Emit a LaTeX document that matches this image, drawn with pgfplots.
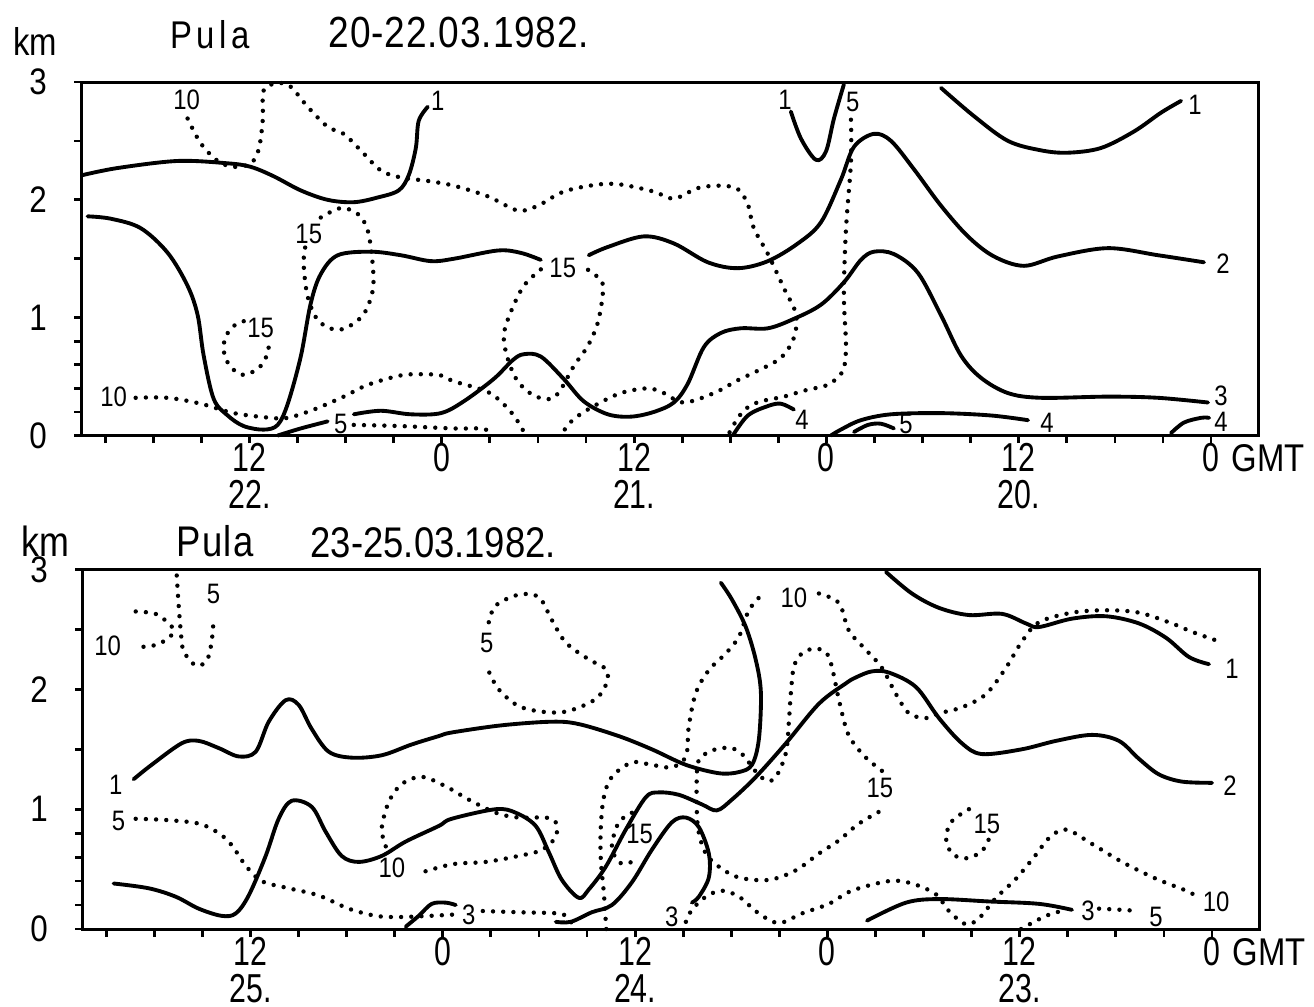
\documentclass[border=0pt]{standalone}
\usepackage{pgfplots}
\pgfplotsset{compat=1.18}
\usepackage{fontspec}
\setmainfont{Liberation Sans}[FakeStretch=0.75]
\newfontfamily\titlefont{Liberation Sans}[FakeStretch=0.85]

\newcommand\xtickfont{\fontsize{11.5}{10.5}\selectfont}
\newcommand\ytickfont{\titlefont\fontsize{10.5}{11}\selectfont}
\newcommand\labfont{\titlefont\fontsize{8}{8}\selectfont}
\newcommand\gmt{\rlap{\hspace{0.12cm}\titlefont\fontsize{11}{11}\selectfont GMT}}

\tikzset{
  iso/.style={line width=1.1pt, smooth, tension=0.55, line cap=round, line join=round},
  isodot/.style={line width=1.25pt, smooth, tension=0.55, line cap=round, dash pattern=on 0pt off 2.9pt},
  lab/.style={font=\labfont, inner sep=0pt},
}

\pgfplotsset{
  panel/.style={
    scale only axis, width=11.76cm, anchor=south west,
    xmin=-2.93, xmax=70.45, x dir=reverse, ymin=0, ymax=3,
    axis line style={line width=0.85pt},
    tick align=outside, xtick pos=bottom, ytick pos=left,
    xtick={0,12,24,36,48,60},
    minor xtick={3,6,9,15,18,21,27,30,33,39,42,45,51,54,57,63,66,69},
    ytick={0,1,2,3}, yticklabels={0,1,2,3},
    minor ytick={0.2,0.4,0.6,0.8,1.5,2.5},
    major tick length=0.075cm, minor tick length=0.075cm,
    tick style={line width=0.8pt, black},
    xticklabel style={font=\xtickfont, align=center, inner sep=0pt},
    yticklabel style={font=\ytickfont, inner sep=0pt, xshift=-0.27cm},
    clip=false,
  }
}

\begin{document}
\begin{tikzpicture}
\useasboundingbox (0,0) rectangle (13.14,10.06);

% ---------------- 20-22 March ----------------
\begin{axis}[panel, at={(0.82cm,5.705cm)}, height=3.535cm,
  xticklabels={{0\gmt}, {12\\20.}, {0}, {12\\21.}, {0}, {12\\22.}}]

% solid isolines
\addplot[iso] coordinates {(70.41,2.21) (68.23,2.27) (64.48,2.33) (61.36,2.31) (59.92,2.28) (58.49,2.20) (56.80,2.08) (55.12,2.00) (53.49,1.98) (52.00,2.02) (50.69,2.08) (50.06,2.21) (49.62,2.44) (49.44,2.67) (48.87,2.79)};
\addplot[iso] coordinates {(70.10,1.86) (68.66,1.84) (66.79,1.76) (65.10,1.55) (63.86,1.27) (63.23,1.02) (62.86,0.68) (62.23,0.31) (61.36,0.17) (60.36,0.08) (59.11,0.05) (58.24,0.09) (57.61,0.27) (56.80,0.67) (56.18,1.12) (55.55,1.37) (54.49,1.53) (52.43,1.56) (50.56,1.53) (48.69,1.48) (47.25,1.50) (44.51,1.57) (43.07,1.55) (41.82,1.49)};
\addplot[iso] coordinates {(38.83,1.53) (37.64,1.60) (35.39,1.69) (33.52,1.63) (31.40,1.47) (29.52,1.42) (27.65,1.48) (25.78,1.63) (24.34,1.81) (23.10,2.17) (22.28,2.45) (21.04,2.56) (19.97,2.50) (18.54,2.26) (16.85,1.95) (15.17,1.69) (13.55,1.52) (11.67,1.44) (9.55,1.52) (6.43,1.59) (3.31,1.53) (0.44,1.47)};
\addplot[iso] coordinates {(58.24,0) (56.80,0.06) (55.12,0.12)};
\addplot[iso] coordinates {(53.49,0.18) (51.81,0.21) (49.94,0.18) (48.06,0.19) (46.63,0.29) (44.76,0.48) (43.57,0.64) (42.88,0.69) (41.82,0.67) (40.39,0.48) (39.14,0.29) (37.64,0.18) (36.20,0.16) (34.77,0.20) (33.52,0.28) (32.65,0.44) (31.65,0.75) (30.59,0.87) (29.34,0.91) (27.65,0.91) (26.03,0.99) (24.34,1.11) (22.91,1.30) (21.85,1.49) (21.04,1.56) (19.79,1.54) (18.29,1.38) (16.85,1.02) (15.61,0.68) (14.36,0.49) (12.67,0.36) (10.61,0.32) (6.43,0.33) (3.31,0.32) (0.19,0.28)};
\addplot[iso] coordinates {(29.84,0) (28.90,0.17) (27.65,0.25) (26.84,0.27) (26.03,0.22)};
\addplot[iso] coordinates {(23.72,0) (23.10,0.05) (21.85,0.13) (19.97,0.18) (16.85,0.19) (13.73,0.17) (11.42,0.13)};
\addplot[iso] coordinates {(22.28,0.03) (21.41,0.09) (20.60,0.10) (19.79,0.06)};
\addplot[iso] coordinates {(2.50,0.02) (1.69,0.11) (0.62,0.15) (0.12,0.15)};
\addplot[iso] coordinates {(16.85,2.95) (14.79,2.71) (12.67,2.50) (10.61,2.42) (8.93,2.40) (6.87,2.44) (4.81,2.58) (3.12,2.74) (1.87,2.84)};
\addplot[iso] coordinates {(26.22,2.75) (25.59,2.52) (24.66,2.34) (24.03,2.41) (23.53,2.69) (22.91,2.98)};

% dotted isolines
\addplot[isodot] coordinates {(63.86,2.69) (63.04,2.48) (61.98,2.33) (60.98,2.28) (59.92,2.31) (59.42,2.43) (59.17,2.68) (59.11,2.93) (58.24,2.99) (57.43,2.96) (56.37,2.79) (55.12,2.62) (54.12,2.56) (53.06,2.42) (51.81,2.25) (50.56,2.19) (48.87,2.16) (47.25,2.12) (45.13,2.03) (43.26,1.91) (42.01,1.95) (40.39,2.07) (38.26,2.13) (36.83,2.13) (34.77,2.07) (33.52,2.01) (32.02,2.10) (30.59,2.12) (29.52,2.09) (28.90,1.96) (28.53,1.76) (27.65,1.54) (26.65,1.25) (25.90,1.03) (26.03,0.83) (26.84,0.66) (28.28,0.55) (29.52,0.47) (31.02,0.36) (32.90,0.28) (34.14,0.36) (35.14,0.40) (36.83,0.36) (38.51,0.25) (39.76,0.14) (40.39,0.04) (40.58,0)};
\addplot[isodot] coordinates {(67.10,0.32) (65.10,0.32) (63.04,0.27) (60.98,0.19) (58.67,0.15) (57.61,0.15) (55.99,0.22) (54.12,0.33) (52.62,0.43) (50.56,0.51) (49.13,0.52) (48.06,0.51) (47.25,0.46) (45.13,0.37) (43.88,0.23) (43.07,0.08) (42.82,0)};
\addplot[isodot] coordinates {(60.36,0.97) (60.98,0.93) (61.48,0.84) (61.61,0.73) (61.36,0.62) (60.74,0.53) (60.11,0.52) (59.30,0.59) (58.86,0.70) (58.80,0.78)};
\addplot[isodot] coordinates {(55.55,1.85) (54.31,1.93) (53.24,1.88) (52.62,1.74) (52.31,1.45) (52.31,1.23) (52.87,1.03) (53.87,0.92) (54.74,0.90) (55.74,0.98) (56.37,1.18) (56.62,1.46) (56.49,1.62)};
\addplot[isodot] coordinates {(41.82,1.41) (42.88,1.27) (43.69,1.05) (44.13,0.85) (43.88,0.65) (43.26,0.46) (42.26,0.34) (41.20,0.31) (40.58,0.39) (39.76,0.59) (38.89,0.76) (38.26,0.96) (37.95,1.21) (38.08,1.32) (39.14,1.43)};
\addplot[isodot] coordinates {(22.47,2.68) (22.47,2.32) (22.78,1.75) (22.91,1.19) (22.78,0.77) (22.91,0.57) (23.28,0.50) (23.91,0.43) (25.41,0.38) (26.65,0.33) (28.09,0.29) (28.90,0.24) (29.52,0.15) (30.15,0)};
\addplot[isodot] coordinates {(53.49,0.09) (50.56,0.08) (47.25,0.06) (45.57,0.06) (45.13,0.04)};

% isoline values
\node[lab] at (63.92,2.85) {10};
\node[lab] at (48.25,2.84) {1};
\node[lab] at (26.59,2.85) {1};
\node[lab] at (22.35,2.83) {5};
\node[lab] at (1.00,2.81) {1};
\node[lab] at (56.30,1.71) {15};
\node[lab] at (59.30,0.91) {15};
\node[lab] at (40.45,1.42) {15};
\node[lab] at (-0.75,1.46) {2};
\node[lab] at (-0.62,0.335) {3};
\node[lab] at (-0.62,0.115) {4};
\node[lab] at (10.24,0.11) {4};
\node[lab] at (19.04,0.10) {5};
\node[lab] at (25.53,0.13) {4};
\node[lab] at (54.31,0.10) {5};
\node[lab] at (68.47,0.33) {10};
\end{axis}

% ---------------- 23-25 March ----------------
\begin{axis}[panel, at={(0.83cm,0.77cm)}, height=3.595cm,
  xticklabels={{0\gmt}, {12\\23.}, {0}, {12\\24.}, {0}, {12\\25.}}]

% solid isolines
\addplot[iso] coordinates {(67.29,1.25) (66.17,1.37) (64.29,1.55) (63.23,1.57) (61.98,1.51) (60.73,1.44) (59.67,1.48) (58.86,1.73) (57.80,1.91) (56.99,1.87) (56.18,1.67) (55.12,1.48) (53.68,1.43) (51.81,1.45) (49.94,1.54) (48.25,1.61) (47.44,1.64) (44.32,1.70) (41.20,1.73) (39.51,1.71) (37.02,1.61) (34.96,1.50) (32.83,1.37) (30.77,1.30) (29.52,1.31) (28.71,1.37) (28.28,1.58) (28.15,1.97) (28.46,2.24) (29.09,2.52) (29.96,2.75) (30.65,2.89)};
\addplot[iso] coordinates {(20.35,2.98) (18.73,2.80) (17.04,2.68) (15.17,2.62) (13.11,2.63) (11.61,2.55) (10.80,2.52) (8.74,2.59) (6.62,2.61) (4.56,2.55) (2.87,2.43) (1.44,2.27) (0.19,2.21)};
\addplot[iso] coordinates {(68.54,0.38) (66.35,0.34) (64.67,0.27) (63.23,0.17) (61.80,0.11) (60.92,0.13) (60.11,0.28) (59.05,0.61) (58.24,0.92) (57.43,1.07) (56.18,1.02) (55.30,0.81) (54.31,0.61) (53.24,0.56) (51.81,0.61) (50.31,0.73) (48.25,0.86) (47.44,0.92) (44.69,1.00) (43.44,0.97) (42.20,0.86) (41.38,0.64) (40.57,0.41) (39.51,0.26) (38.89,0.33) (37.83,0.52) (36.58,0.83) (35.33,1.10) (34.52,1.14) (33.27,1.12) (31.83,1.04) (30.90,0.99) (29.96,1.08) (28.46,1.27) (26.59,1.55) (24.53,1.88) (22.85,2.05) (22.22,2.10) (21.22,2.15) (20.16,2.14) (18.48,2.02) (17.04,1.76) (15.61,1.55) (14.36,1.46) (11.86,1.50) (9.74,1.57) (7.49,1.62) (5.81,1.57) (4.56,1.42) (3.31,1.29) (1.87,1.23) (0,1.22)};
\addplot[iso] coordinates {(40.95,0.06) (40.01,0.06) (38.70,0.14) (37.45,0.20) (36.20,0.39) (34.96,0.66) (33.71,0.89) (32.83,0.93) (32.02,0.85) (31.40,0.63) (31.40,0.43) (32.02,0.27) (32.46,0.22)};
\addplot[iso] coordinates {(50.31,0.02) (49.50,0.11) (48.69,0.21) (47.81,0.22) (47.19,0.20)};
\addplot[iso] coordinates {(21.53,0.07) (19.10,0.22) (17.04,0.25) (13.92,0.23) (10.80,0.21) (8.74,0.16)};

% dotted isolines
\addplot[isodot] coordinates {(67.16,2.65) (65.92,2.63) (65.10,2.55) (64.79,2.49) (65.10,2.43) (65.92,2.37) (67.16,2.35)};
\addplot[isodot] coordinates {(64.60,2.95) (64.48,2.70) (64.35,2.49) (64.17,2.32) (63.42,2.20) (62.73,2.24) (62.42,2.40) (62.30,2.59)};
\addplot[isodot] coordinates {(67.16,0.92) (65.29,0.91) (63.23,0.88) (61.98,0.80) (61.17,0.70) (60.30,0.53) (59.30,0.40) (57.61,0.34) (55.74,0.28) (53.87,0.17) (52.18,0.11) (50.75,0.10) (48.80,0.11) (47.40,0.12)};
\addplot[isodot] coordinates {(45.50,0.15) (43.26,0.14) (40.76,0.13) (40.32,0.10) (39.95,0.05) (39.75,0)};
\addplot[isodot] coordinates {(51.56,0.69) (51.81,0.84) (51.37,1.06) (50.56,1.21) (49.31,1.27) (47.81,1.19) (46.38,1.08) (44.69,0.97) (43.26,0.93) (41.57,0.93) (40.95,0.89) (40.95,0.77) (41.82,0.66) (43.26,0.61) (45.32,0.56) (47.44,0.54) (49.60,0.46)};
\addplot[isodot] coordinates {(45.13,2.56) (44.69,2.70) (43.26,2.79) (42.01,2.77) (41.20,2.58) (40.32,2.39) (38.89,2.25) (37.83,2.17) (37.76,2.06) (38.45,1.92) (40.14,1.82) (41.57,1.81) (43.26,1.86) (44.51,2.00) (45.13,2.15)};
\addplot[isodot] coordinates {(36.20,0.97) (37.02,0.89) (37.45,0.69) (37.02,0.56) (36.39,0.55) (35.77,0.60)};
\addplot[isodot] coordinates {(37.80,0) (37.95,0.30) (38.14,0.58) (38.14,0.85) (37.95,1.10) (37.45,1.27) (36.20,1.39) (34.96,1.37) (33.71,1.35) (32.83,1.44) (32.65,1.69) (32.21,1.97) (31.40,2.16) (30.34,2.30) (29.52,2.44) (28.90,2.66) (28.09,2.79)};
\addplot[isodot] coordinates {(24.53,2.80) (23.28,2.72) (22.66,2.49) (21.60,2.33) (20.60,2.18) (19.72,1.96) (18.91,1.80) (17.85,1.76) (17.04,1.80) (15.61,1.85) (14.11,1.96) (12.86,2.18) (11.86,2.40) (10.80,2.56) (8.74,2.64) (6.62,2.66) (4.56,2.64) (2.50,2.55) (1.25,2.48) (-0.44,2.40)};
\addplot[isodot] coordinates {(20.60,1.32) (21.60,1.43) (22.47,1.57) (22.85,1.68) (23.28,1.91) (23.91,2.27) (24.72,2.34) (25.59,2.30) (26.09,2.19) (26.28,1.97) (26.40,1.74) (26.59,1.47) (27.22,1.27) (27.84,1.24) (28.71,1.35) (29.09,1.43) (29.96,1.51) (31.21,1.49) (32.02,1.41) (32.15,1.27) (32.15,0.99) (32.02,0.80) (31.59,0.63) (30.77,0.52) (29.52,0.43) (27.65,0.41) (25.97,0.49) (24.53,0.63) (23.28,0.74) (22.03,0.88) (20.35,1.01)};
\addplot[isodot] coordinates {(32.83,0.06) (32.46,0.16) (31.59,0.27) (30.59,0.32) (29.52,0.27) (28.28,0.13) (27.03,0.05) (25.59,0.13) (23.91,0.21) (22.47,0.32) (20.16,0.40) (18.73,0.38) (17.23,0.29) (16.42,0.15) (15.36,0.04) (14.54,0.09) (13.48,0.26) (12.23,0.42) (10.99,0.62) (10.17,0.76) (9.11,0.83) (7.49,0.71) (5.62,0.56) (3.50,0.42) (1.44,0.31) (0.81,0.25)};
\addplot[isodot] coordinates {(11.92,0) (10.36,0.11) (9.11,0.16)};
\addplot[isodot] coordinates {(7.05,0.17) (5.62,0.16) (4.56,0.15)};
\addplot[isodot] coordinates {(15.17,1.00) (16.23,0.90) (16.60,0.76) (16.23,0.63) (15.36,0.59) (14.36,0.65) (13.80,0.79)};

% isoline values
\node[lab] at (68.91,2.36) {10};
\node[lab] at (62.30,2.80) {5};
\node[lab] at (68.41,1.20) {1};
\node[lab] at (68.23,0.90) {5};
\node[lab] at (51.18,0.51) {10};
\node[lab] at (46.38,0.12) {3};
\node[lab] at (45.25,2.39) {5};
\node[lab] at (35.71,0.79) {15};
\node[lab] at (33.71,0.10) {3};
\node[lab] at (26.09,2.76) {10};
\node[lab] at (20.72,1.18) {15};
\node[lab] at (14.05,0.88) {15};
\node[lab] at (-1.25,2.17) {1};
\node[lab] at (-1.12,1.20) {2};
\node[lab] at (7.74,0.15) {3};
\node[lab] at (3.50,0.10) {5};
\node[lab] at (-0.25,0.23) {10};
\end{axis}

% headings
\node[anchor=base, inner sep=0pt, font=\titlefont\fontsize{11}{12}\selectfont] at (0.35,9.51) {km};
\node[anchor=base, inner sep=0pt, font=\titlefont\fontsize{11}{12}\selectfont\addfontfeature{LetterSpace=12}] at (2.10,9.58) {Pula};
\node[anchor=base west, inner sep=0pt, font=\titlefont\fontsize{12.4}{13}\selectfont\addfontfeature{LetterSpace=2}] at (3.28,9.59) {20-22.03.1982.};
\node[anchor=base, inner sep=0pt, font=\titlefont\fontsize{12}{13}\selectfont] at (0.45,4.50) {km};
\node[anchor=base, inner sep=0pt, font=\titlefont\fontsize{12.2}{13}\selectfont\addfontfeature{LetterSpace=3}] at (2.15,4.50) {Pula};
\node[anchor=base west, inner sep=0pt, font=\titlefont\fontsize{12.2}{13}\selectfont] at (3.10,4.49) {23-25.03.1982.};
\end{tikzpicture}
\end{document}
